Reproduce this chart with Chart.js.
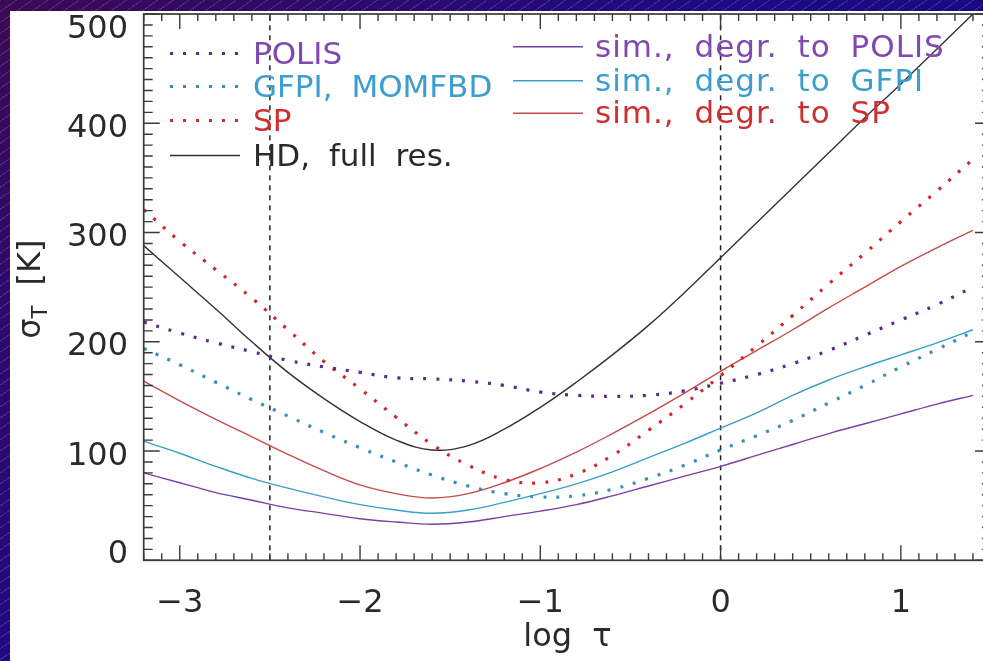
<!DOCTYPE html>
<html><head><meta charset="utf-8">
<script src="https://cdn.jsdelivr.net/npm/chart.js@4"></script>
<style>
html,body{margin:0;padding:0;width:983px;height:661px;overflow:hidden;}
body{position:relative;background:
 repeating-linear-gradient(145deg, rgba(170,140,255,0.25) 0 1px, rgba(0,0,0,0) 1px 9px),
 linear-gradient(135deg,#3c0a55 0%,#1c0a84 45%,#0b0b74 100%);}
#wrap{position:absolute;left:10px;top:11px;width:990px;height:650px;background:#fff;}
canvas{display:block;}
</style></head><body>
<div id="wrap"><canvas id="c" width="990" height="650"></canvas></div>
<script>
// ---- data ----
const logTau   = [-3.2,-3.0,-2.8,-2.6,-2.4,-2.2,-2.0,-1.8,-1.6,-1.4,-1.2,-1.0,-0.8,-0.6,-0.4,-0.2,0.0,0.2,0.4,0.6,0.8,1.0,1.2,1.4];
const polisObs = [218,208,199,191,183,177,172,167,166,164,160,154,151,150,151,155,162,170,180,192,206,220,234,250];
const gfpiObs  = [194,179,163,147,132,117,103,90,78,68,61,58,59,65,75,87,101,114,128,144,160,177,193,209];
const spObs    = [321,292,266,240,211,182,157,131,106,87,74,71,79,96,119,143,169,196,224,253,281,310,338,367];
const hdFull   = [288,259,230,200,172,148,127,110,101,105,120,140,163,188,215,245,277,309,341,373,405,436,468,500];
const simPOLIS = [80,71,62,55,48,43,38,35,33,35,40,45,51,59,68,77,86,96,106,116,125,134,143,151];
const simGFPI  = [109,98,86,75,66,58,51,46,43,46,53,61,70,81,94,107,121,135,151,165,177,188,199,211];
const simSP    = [164,146,129,113,97,82,69,61,57,61,71,84,99,116,134,153,173,192,211,231,250,269,286,302];
const refLines = [-2.5, 0];
const xTicks = [-3,-2,-1,0,1];
const yTicks = [0,100,200,300,400,500];
const xTitle = 'log τ';
const yTitleMain = 'σ', yTitleSub = 'T', yTitleUnit = ' [K]';

const PUR = '#7b3fa6', PURD = '#5c2a8a', PURT = '#8048b0';
const CYA = '#3a9fc8', CYAD = '#3a8fb8', CYAT = '#3c9ed0';
const RED = '#c84a4a', REDD = '#d02828', REDT = '#cc3030';
const BLK = '#333333';

const pts = arr => logTau.map((t,i)=>({x:t,y:arr[i]}));
const dotted = {borderDash:[3,10], borderWidth:3.2, borderCapStyle:'butt'};
const solid = {borderWidth:1.4};

const series = [
  {label:'POLIS', data:pts(polisObs), borderColor:PURD, textColor:PURT, ...dotted, col:0, row:0},
  {label:'GFPI, MOMFBD', data:pts(gfpiObs), borderColor:CYAD, textColor:CYAT, ...dotted, col:0, row:1},
  {label:'SP', data:pts(spObs), borderColor:REDD, textColor:REDT, ...dotted, col:0, row:2},
  {label:'HD, full res.', data:pts(hdFull), borderColor:BLK, textColor:'#2a2a2a', ...solid, col:0, row:3},
  {label:'sim., degr. to POLIS', data:pts(simPOLIS), borderColor:PUR, textColor:PURT, ...solid, col:1, row:0},
  {label:'sim., degr. to GFPI', data:pts(simGFPI), borderColor:CYA, textColor:CYAT, ...solid, col:1, row:1},
  {label:'sim., degr. to SP', data:pts(simSP), borderColor:RED, textColor:REDT, ...solid, col:1, row:2},
];
const datasets = series.map(s=>Object.assign({pointRadius:0, fill:false, tension:0.4}, s));
refLines.forEach(v=>datasets.push({label:'', data:[{x:v,y:0},{x:v,y:500}], borderColor:'#222', borderWidth:1.5, borderDash:[5,5], pointRadius:0, tension:0, isRef:true}));

const FONT = '32px "DejaVu Sans"';
const fmt = v => (v<0?'\u2212':'') + Math.abs(v);

const axesPlugin = {
  id:'idlAxes',
  afterDatasetsDraw(chart){
    const {ctx, chartArea:a, scales:{x,y}} = chart;
    ctx.save();
    ctx.strokeStyle='#3a3a3a'; ctx.lineWidth=1.7;
    ctx.strokeRect(a.left, a.top, a.right-a.left, a.bottom-a.top);
    ctx.lineWidth=1.4; ctx.beginPath();
    for(let i=Math.ceil(x.min*10-1e-6); i<=Math.floor(x.max*10+1e-6); i++){
      const p=x.getPixelForValue(i/10), L=(i%10===0)?15:7;
      ctx.moveTo(p,a.bottom); ctx.lineTo(p,a.bottom-L);
      ctx.moveTo(p,a.top); ctx.lineTo(p,a.top+L);
    }
    for(let v=0; v<=500; v+=10){
      const p=y.getPixelForValue(v), L=(v%100===0)?16:9;
      ctx.moveTo(a.left,p); ctx.lineTo(a.left+L,p);
      ctx.moveTo(a.right,p); ctx.lineTo(a.right-L,p);
    }
    ctx.stroke();
    ctx.fillStyle='#2a2a2a'; ctx.font=FONT; ctx.textBaseline='alphabetic';
    ctx.textAlign='center';
    xTicks.forEach(v=>ctx.fillText(fmt(v), x.getPixelForValue(v), 600.7));
    ctx.textAlign='right';
    yTicks.forEach(v=>{
      let c = y.getPixelForValue(v)+2;
      c = Math.max(a.top+12, Math.min(a.bottom-9, c));
      ctx.fillText(String(v), 118, c+11.5);
    });
    // x title
    ctx.textAlign='center'; ctx.wordSpacing='10px';
    ctx.fillText(xTitle, (a.left+a.right)/2, 635);
    // y title
    ctx.save();
    ctx.translate(30, (a.top+a.bottom)/2 + 2); ctx.rotate(-Math.PI/2);
    ctx.textAlign='left';
    ctx.font=FONT; const w1=ctx.measureText(yTitleMain).width, w3=ctx.measureText(yTitleUnit).width;
    ctx.font='21px "DejaVu Sans"'; const w2=ctx.measureText(yTitleSub).width;
    let sx=-(w1+w2+w3)/2;
    ctx.font=FONT; ctx.fillText(yTitleMain, sx, 0); sx+=w1;
    ctx.font='21px "DejaVu Sans"'; ctx.fillText(yTitleSub, sx, 7); sx+=w2;
    ctx.font=FONT; ctx.fillText(yTitleUnit, sx, 0);
    ctx.restore();
    // legend
    const cols = [{x0:160,x1:230,tx:243,base:[52.5,85.5,119.5,154.5],ls:'0px'},
                  {x0:503,x1:573,tx:585,base:[45.7,79.7,112.3],ls:'1px'}];
    ctx.font='31px "DejaVu Sans"'; ctx.textAlign='left'; ctx.wordSpacing='9px';
    chart.data.datasets.forEach(d=>{
      if(d.isRef) return;
      const c=cols[d.col], b=c.base[d.row];
      ctx.save();
      ctx.strokeStyle=d.borderColor; ctx.lineWidth=d.borderWidth;
      ctx.setLineDash(d.borderDash||[]);
      ctx.beginPath(); ctx.moveTo(c.x0,b-10); ctx.lineTo(c.x1,b-10); ctx.stroke();
      ctx.restore();
      ctx.letterSpacing=c.ls;
      ctx.fillStyle=d.textColor; ctx.fillText(d.label, c.tx, b);
    });
    ctx.restore();
  }
};

new Chart(document.getElementById('c'), {
  type:'line',
  data:{datasets},
  options:{
    responsive:false, animation:false, devicePixelRatio:1,
    layout:{padding:{left:133.7, right:9, top:3, bottom:100.7}},
    plugins:{legend:{display:false}, tooltip:{enabled:false}},
    scales:{
      x:{type:'linear', min:-3.2, max:1.5, display:false},
      y:{type:'linear', min:0, max:500, display:false}
    }
  },
  plugins:[axesPlugin]
});
</script>
</body></html>
